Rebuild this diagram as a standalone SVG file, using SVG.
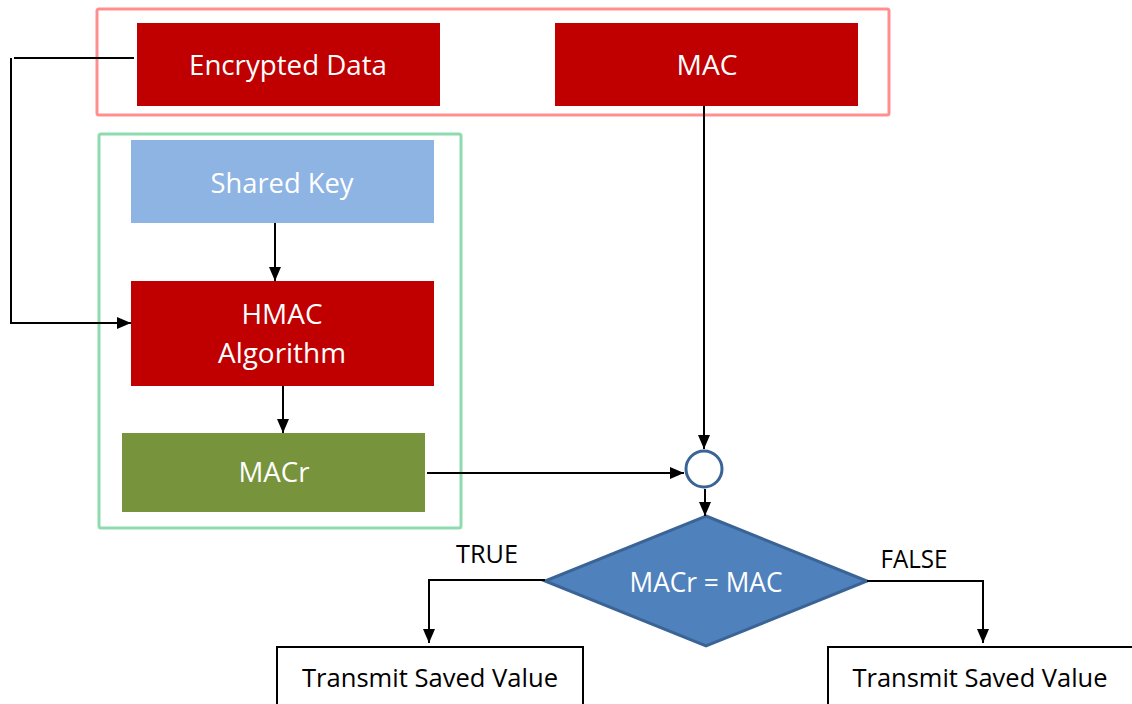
<svg xmlns="http://www.w3.org/2000/svg" width="1132" height="704" viewBox="0 0 1132 704">
<defs>
<marker id="ah" viewBox="0 0 14 12" refX="14" refY="6" markerWidth="14" markerHeight="12" markerUnits="userSpaceOnUse" orient="auto">
<path d="M0,0 L14,6 L0,12 Z" fill="#000"/>
</marker>
</defs>
<style>
.t{font-family:"Open Sans","Noto Sans","Liberation Sans",sans-serif;text-anchor:middle}
.w{fill:#fff;font-size:27px}
.b{fill:#000;font-size:25px}
.red{fill:#C00000}
.con{fill:none;stroke:#000;stroke-width:2}
</style>
<rect x="97" y="9" width="792" height="106" rx="2" fill="none" stroke="#FF8F8F" stroke-width="3"/>
<rect x="99" y="134" width="362" height="394" rx="2" fill="none" stroke="#8EDBB0" stroke-width="3"/>
<g id="encrypted">
<rect class="red" x="137" y="23" width="303" height="83"/>
<text class="t w" x="288" y="75" textLength="198" lengthAdjust="spacingAndGlyphs">Encrypted Data</text>
</g>
<g id="mac">
<rect class="red" x="555" y="23" width="303" height="83"/>
<text class="t w" x="707" y="75" textLength="61" lengthAdjust="spacingAndGlyphs">MAC</text>
</g>
<g id="sharedkey">
<rect x="131" y="140" width="303" height="83" fill="#8EB4E3"/>
<text class="t w" x="282" y="193" fill="#F2F2F2" textLength="143" lengthAdjust="spacingAndGlyphs">Shared Key</text>
</g>
<g id="hmac">
<rect class="red" x="131" y="281" width="303" height="105"/>
<text class="t w" x="282" y="324" textLength="81" lengthAdjust="spacingAndGlyphs">HMAC</text>
<text class="t w" x="282" y="363" textLength="128" lengthAdjust="spacingAndGlyphs">Algorithm</text>
</g>
<g id="macr">
<rect x="122" y="433" width="303" height="79" fill="#77933C"/>
<text class="t w" x="274" y="482" textLength="71" lengthAdjust="spacingAndGlyphs">MACr</text>
</g>
<g id="junction">
<circle cx="704" cy="469" r="18" fill="#fff" stroke="#3B6496" stroke-width="3"/>
</g>
<g id="compare">
<polygon points="706,516 867,581 706,646 545,581" fill="#4F81BD" stroke="#3B6496" stroke-width="3"/>
<text class="t w" x="706" y="592" textLength="153" lengthAdjust="spacingAndGlyphs">MACr = MAC</text>
</g>
<g id="true-result">
<rect x="277" y="647" width="306" height="80" fill="#fff" stroke="#000" stroke-width="2"/>
<text class="t b" x="430" y="687" textLength="256" lengthAdjust="spacingAndGlyphs">Transmit Saved Value</text>
</g>
<g id="false-result">
<rect x="828" y="647" width="320" height="80" fill="#fff" stroke="#000" stroke-width="2"/>
<text class="t b" x="980" y="687" textLength="255" lengthAdjust="spacingAndGlyphs">Transmit Saved Value</text>
</g>
<g id="connectors">
<path class="con" d="M134,58 H14 M11,58 V323 H131" marker-end="url(#ah)"/>
<path class="con" d="M275,223 V281" marker-end="url(#ah)"/>
<path class="con" d="M283,386 V433" marker-end="url(#ah)"/>
<path class="con" d="M427,473 H684" marker-end="url(#ah)"/>
<path class="con" d="M704,106 V449" marker-end="url(#ah)"/>
<path class="con" d="M705,489 V516" marker-end="url(#ah)"/>
<path class="con" d="M545,580 H429 V643" marker-end="url(#ah)"/>
<path class="con" d="M867,581 H983 V643" marker-end="url(#ah)"/>
<text class="t b" x="487" y="563" textLength="62" lengthAdjust="spacingAndGlyphs">TRUE</text>
<text class="t b" x="914" y="568" textLength="67" lengthAdjust="spacingAndGlyphs">FALSE</text>
</g>
</svg>
